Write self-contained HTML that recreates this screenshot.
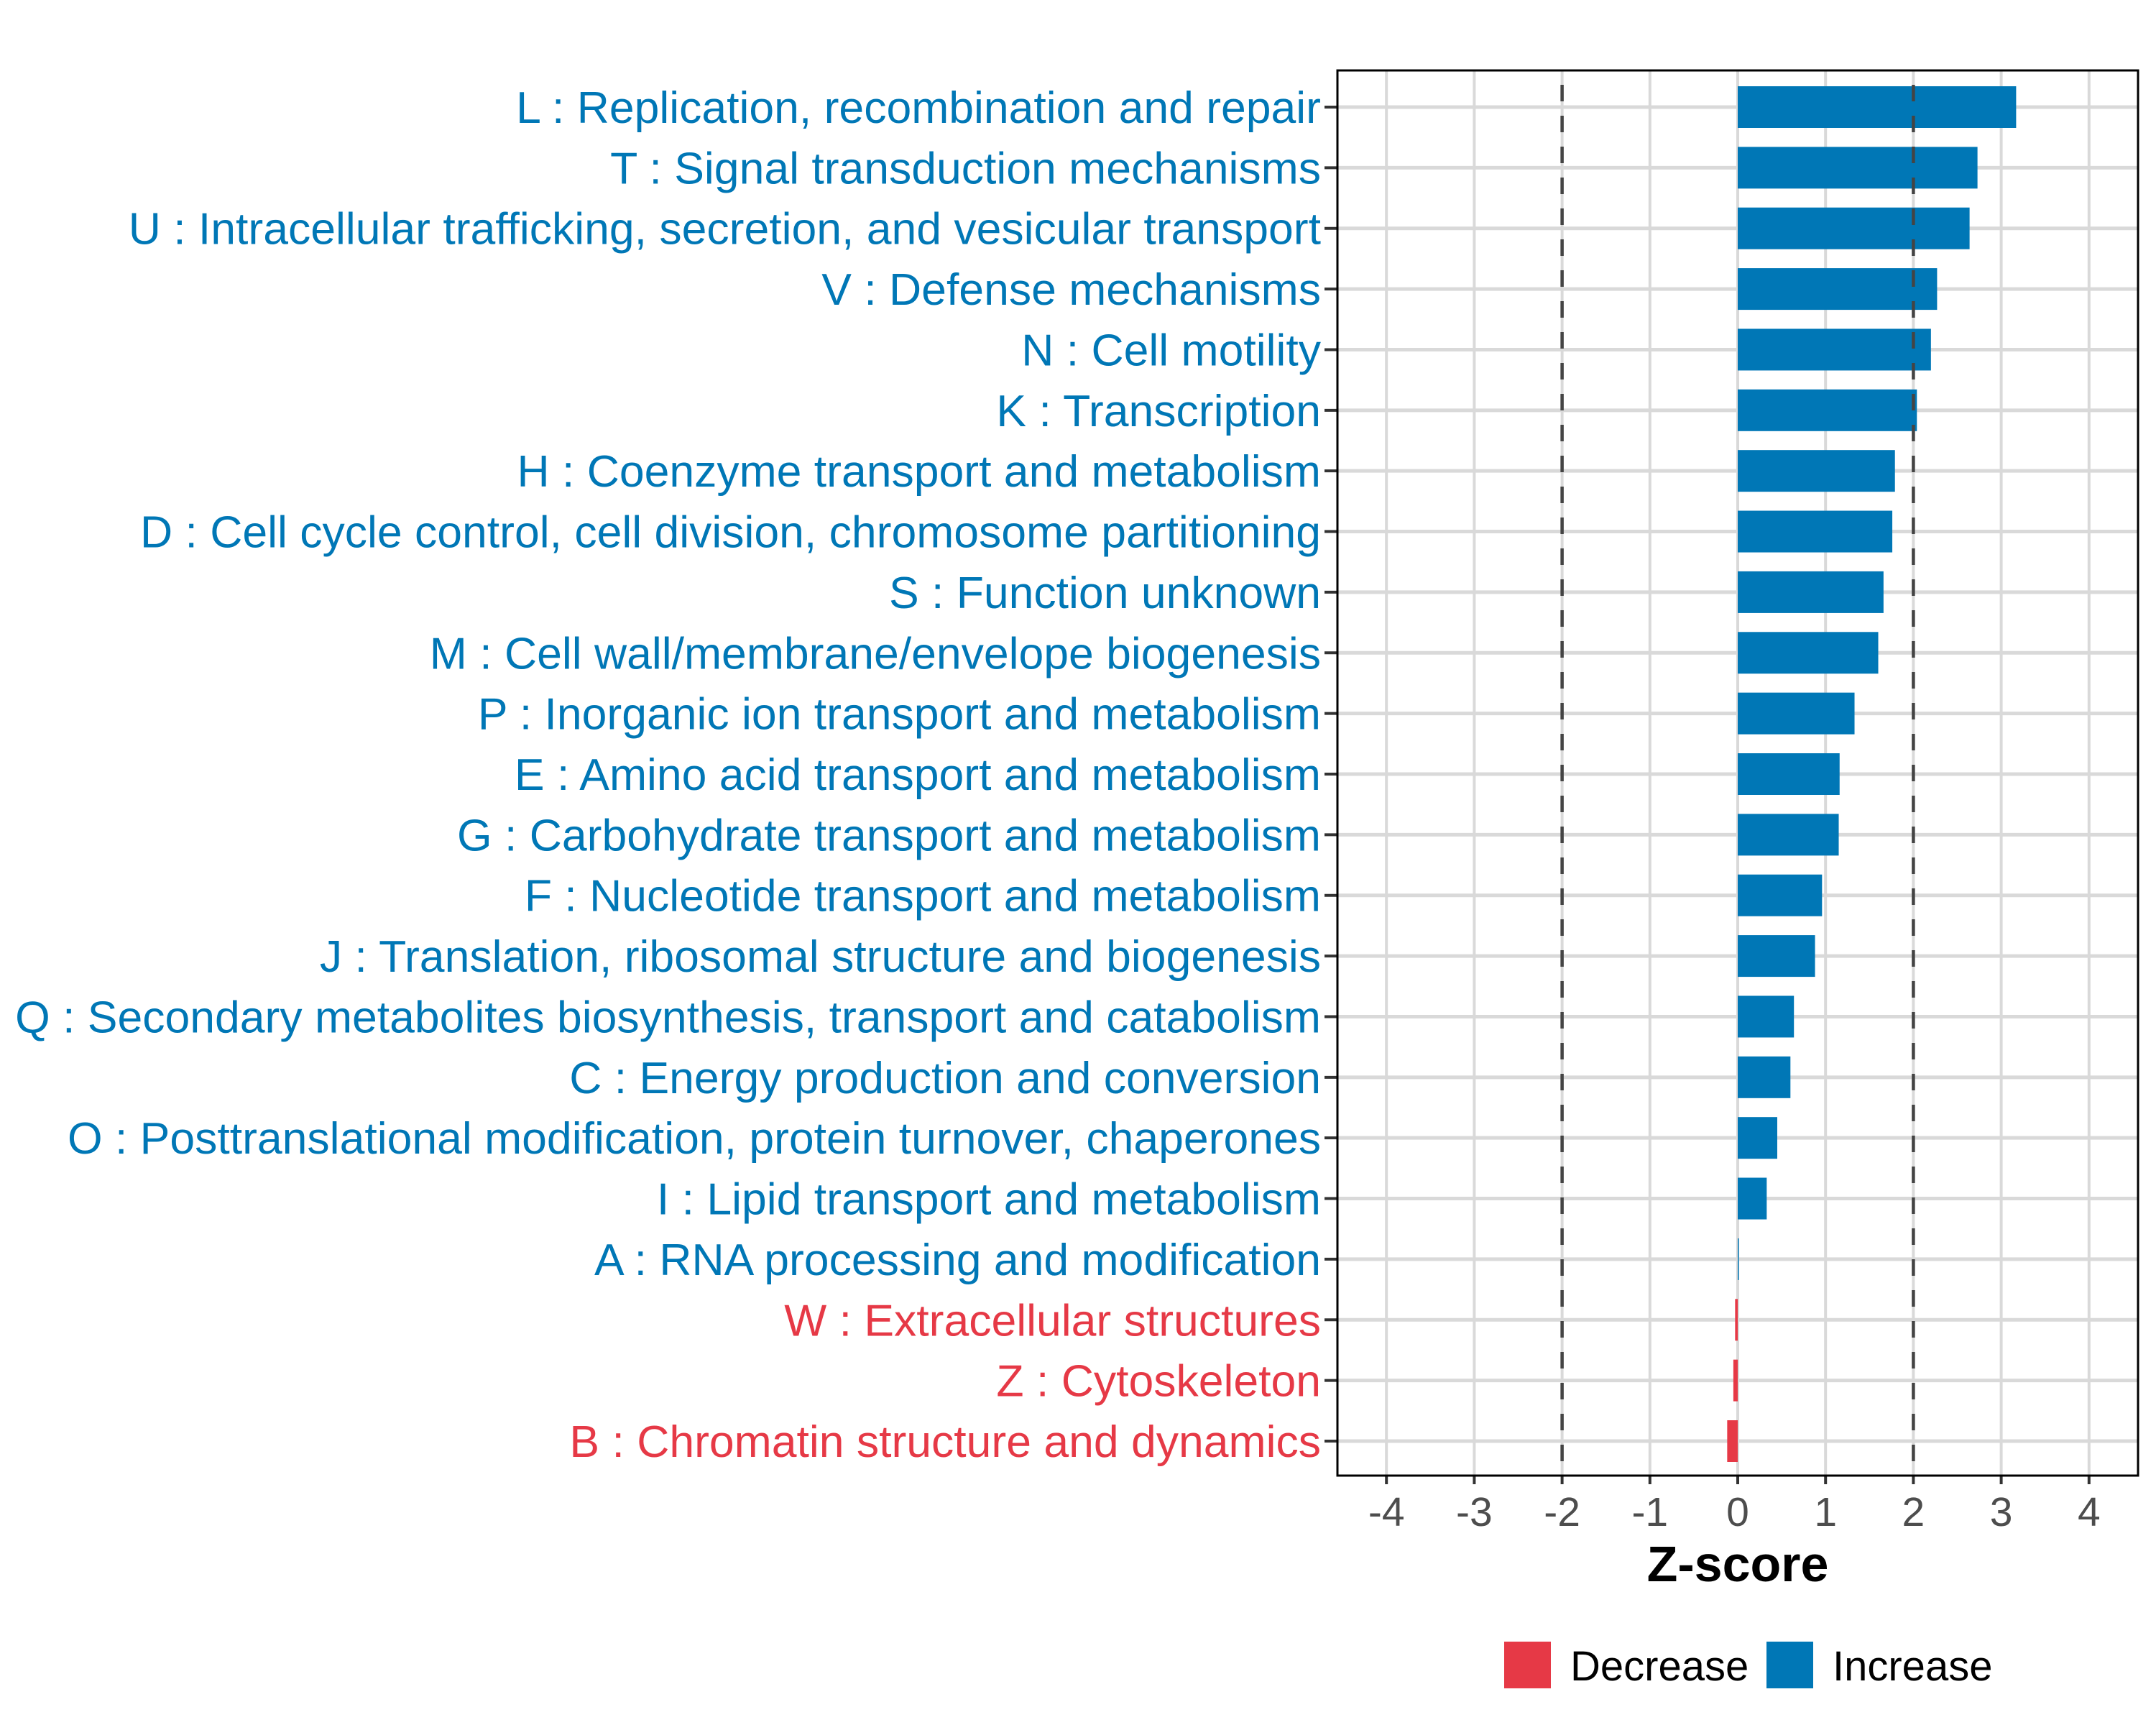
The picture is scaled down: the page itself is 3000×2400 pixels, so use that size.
<!DOCTYPE html>
<html><head><meta charset="utf-8"><style>
html,body{margin:0;padding:0;background:#fff;}
svg{display:block;font-family:"Liberation Sans",Arial,sans-serif;}
</style></head><body>
<svg id="chart" width="3000" height="2400" viewBox="0 0 3000 2400" xmlns="http://www.w3.org/2000/svg">
<g id="grid"></g>
<g id="bars"></g>
<g id="labels"></g>
<g id="xaxis"></g>
<text x="2418" y="2200" text-anchor="middle" font-size="70" font-weight="bold" fill="#000">Z-score</text>
<g>
<rect x="2093" y="2284" width="65" height="65" fill="#E63946"/>
<text x="2185" y="2338" font-size="58" fill="#000">Decrease</text>
<rect x="2458" y="2284" width="65" height="65" fill="#0077B6"/>
<text x="2550" y="2338" font-size="58" fill="#000">Increase</text>
</g>
</svg>
<script>
const categories = ["L : Replication, recombination and repair","T : Signal transduction mechanisms","U : Intracellular trafficking, secretion, and vesicular transport","V : Defense mechanisms","N : Cell motility","K : Transcription","H : Coenzyme transport and metabolism","D : Cell cycle control, cell division, chromosome partitioning","S : Function unknown","M : Cell wall/membrane/envelope biogenesis","P : Inorganic ion transport and metabolism","E : Amino acid transport and metabolism","G : Carbohydrate transport and metabolism","F : Nucleotide transport and metabolism","J : Translation, ribosomal structure and biogenesis","Q : Secondary metabolites biosynthesis, transport and catabolism","C : Energy production and conversion","O : Posttranslational modification, protein turnover, chaperones","I : Lipid transport and metabolism","A : RNA processing and modification","W : Extracellular structures","Z : Cytoskeleton","B : Chromatin structure and dynamics"];
const zscores = [3.17,2.73,2.64,2.27,2.20,2.04,1.79,1.76,1.66,1.60,1.33,1.16,1.15,0.96,0.88,0.64,0.60,0.45,0.33,0.01,-0.03,-0.05,-0.12];
const xTicks = [-4,-3,-2,-1,0,1,2,3,4];
const thresholds = [-2,2];

const NS="http://www.w3.org/2000/svg";
const P={l:1861,r:2975,t:98,b:2053};
const x0=2418, unit=122.2;
function xs(v){return x0+v*unit;}
const rowTop=149, rowStep=(2005-149)/22;
function ys(i){return rowTop+i*rowStep;}
const BLUE="#0077B6", RED="#E63946";
function mk(tag,attrs,parent){const e=document.createElementNS(NS,tag);for(const k in attrs)e.setAttribute(k,attrs[k]);parent.appendChild(e);return e;}
const grid=document.getElementById('grid'),bars=document.getElementById('bars'),labels=document.getElementById('labels'),xaxis=document.getElementById('xaxis');
const svg=document.getElementById('chart');

let bg=mk('rect',{x:P.l,y:P.t,width:P.r-P.l,height:P.b-P.t,fill:'#fff'},grid);


xTicks.forEach(t=>{
  const l=mk('line',{x1:xs(t),x2:xs(t),y1:P.t,y2:P.b,stroke:'#d9d9d9','stroke-width':4},grid);
  
  
});
categories.forEach((c,i)=>{
  const l=mk('line',{x1:P.l,x2:P.r,y1:ys(i),y2:ys(i),stroke:'#d9d9d9','stroke-width':5},grid);
  
  
});
categories.forEach((c,i)=>{
  const v=zscores[i];
  const col=v<0?RED:BLUE;
  const h=58;
  const x=Math.min(xs(0),xs(v)), w=Math.max(Math.abs(xs(v)-xs(0)),1.5);
  const r=mk('rect',{x:x,y:ys(i)-h/2,width:w,height:h,fill:col},bars);
  
  
  const t=mk('text',{x:1838,y:ys(i)+22,'text-anchor':'end','font-size':62.5,fill:col},labels);
  t.textContent=c;
  
  
  const tk=mk('line',{x1:1843,x2:P.l,y1:ys(i),y2:ys(i),stroke:'#333','stroke-width':4},labels);
  
  
});
thresholds.forEach(t=>{
  const l=mk('line',{x1:xs(t),x2:xs(t),y1:P.t,y2:P.b,stroke:'#444','stroke-width':4.5,'stroke-dasharray':'23 20','stroke-dashoffset':'-20'},bars);
  
  
});
let border=mk('rect',{x:P.l,y:P.t,width:P.r-P.l,height:P.b-P.t,fill:'none',stroke:'#000','stroke-width':3},svg);


xTicks.forEach(t=>{
  const l=mk('line',{x1:xs(t),x2:xs(t),y1:P.b,y2:P.b+12,stroke:'#333','stroke-width':4},xaxis);
  
  
  const tx=mk('text',{x:xs(t),y:2123,'text-anchor':'middle','font-size':57,fill:'#4d4d4d'},xaxis);
  tx.textContent=String(t);
  
  
});
</script>
</body></html>
